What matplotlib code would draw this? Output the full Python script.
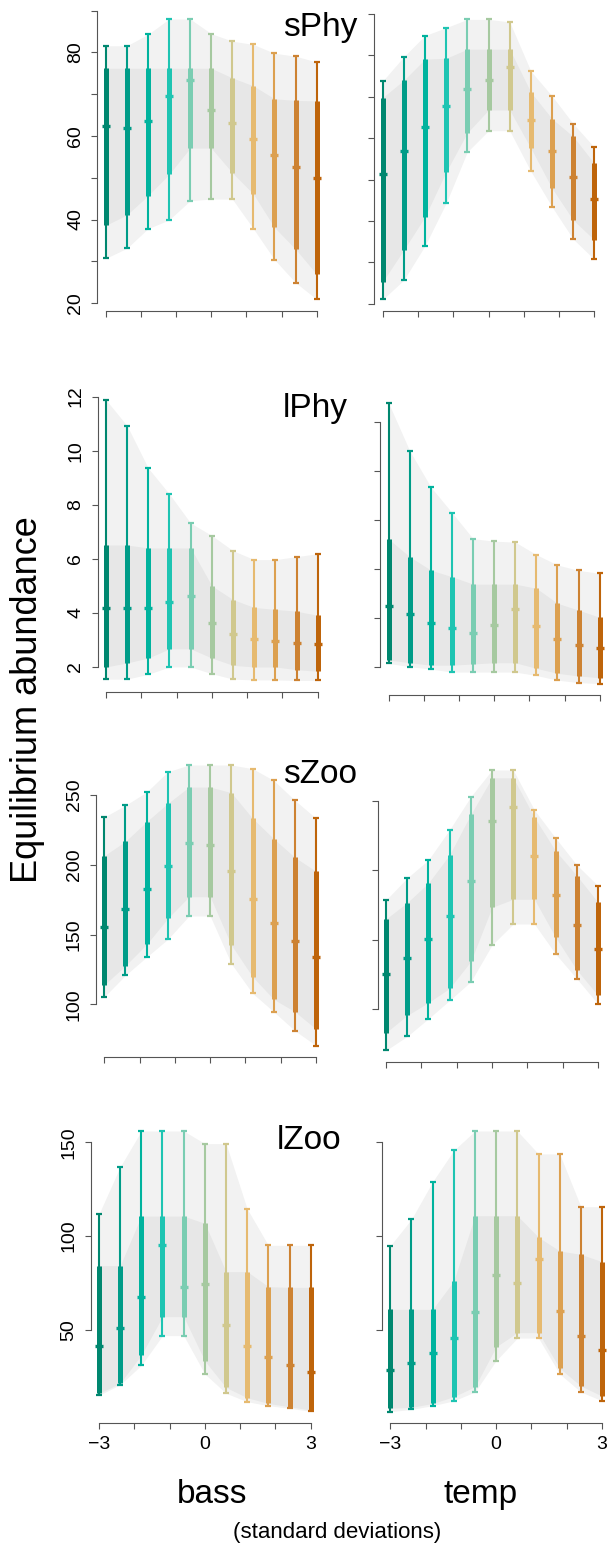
import numpy as np
import matplotlib
matplotlib.use("Agg")
import matplotlib.pyplot as plt

plt.rcParams['font.family'] = ['Liberation Sans', 'DejaVu Sans']

# x positions (standard deviations) shared by all panels
xs = [-3, -2.4, -1.8, -1.2, -0.6, 0, 0.6, 1.2, 1.8, 2.4, 3]

bar_colors = ['#00876F', '#009C88', '#00B39E', '#1EC4B2', '#7ACDB2', '#A6C9A0',
              '#D0C88E', '#E6BA70', '#DCA050', '#CD8232', '#BE640A']

# ---- sPhy ----
sphy_bass_hi  = [81.6, 81.6, 84.3, 88.0, 88.0, 84.5, 82.7, 81.9, 79.8, 79.1, 77.7]
sphy_bass_q3  = [76.2, 76.2, 76.2, 76.2, 76.2, 76.2, 73.9, 72.0, 68.9, 68.5, 68.4]
sphy_bass_med = [62.3, 61.8, 63.5, 69.5, 73.3, 66.2, 63.0, 59.2, 55.4, 52.5, 50.0]
sphy_bass_q1  = [38.6, 41.1, 45.7, 50.8, 57.1, 57.1, 51.2, 46.1, 38.1, 32.9, 26.9]
sphy_bass_lo  = [30.7, 33.1, 37.8, 39.9, 44.5, 44.9, 44.9, 37.8, 30.4, 24.9, 20.9]

sphy_temp_hi  = [73.8, 79.7, 84.8, 86.7, 88.7, 88.7, 88.1, 76.2, 70.2, 63.5, 57.8]
sphy_temp_q3  = [69.8, 74.0, 79.1, 79.3, 81.5, 81.5, 81.5, 71.1, 64.7, 60.4, 53.9]
sphy_temp_med = [51.3, 56.8, 62.6, 67.8, 71.8, 74.0, 77.2, 64.3, 56.8, 50.7, 45.3]
sphy_temp_q1  = [25.3, 33.0, 41.0, 51.9, 61.3, 66.8, 66.8, 57.6, 47.9, 40.2, 35.4]
sphy_temp_lo  = [21.0, 25.7, 34.0, 44.3, 56.7, 61.8, 61.8, 52.0, 43.4, 35.6, 30.7]

# ---- lPhy ----
lphy_bass_hi  = [11.88, 10.92, 9.35, 8.39, 7.32, 6.86, 6.30, 5.97, 5.97, 6.08, 6.19]
lphy_bass_q3  = [6.51, 6.51, 6.40, 6.40, 6.40, 5.00, 4.49, 4.20, 4.13, 4.06, 3.91]
lphy_bass_med = [4.18, 4.18, 4.18, 4.40, 4.62, 3.63, 3.22, 3.05, 2.96, 2.89, 2.85]
lphy_bass_q1  = [2.00, 2.15, 2.33, 2.67, 2.67, 2.33, 2.06, 2.00, 2.00, 1.90, 1.84]
lphy_bass_lo  = [1.55, 1.55, 1.73, 2.00, 2.00, 1.75, 1.55, 1.52, 1.52, 1.50, 1.50]

lphy_temp_hi  = [12.75, 10.81, 9.34, 8.30, 7.24, 7.14, 7.10, 6.59, 6.17, 5.95, 5.83]
lphy_temp_q3  = [7.22, 6.50, 5.96, 5.69, 5.39, 5.39, 5.39, 5.22, 4.61, 4.33, 4.04]
lphy_temp_med = [4.50, 4.16, 3.82, 3.59, 3.42, 3.71, 4.36, 3.67, 3.14, 2.90, 2.77]
lphy_temp_q1  = [2.30, 2.19, 2.09, 2.09, 2.14, 2.19, 2.19, 1.96, 1.76, 1.65, 1.58]
lphy_temp_lo  = [2.16, 2.03, 1.93, 1.81, 1.81, 1.81, 1.81, 1.67, 1.48, 1.38, 1.34]

# ---- sZoo ----
szoo_bass_hi  = [234.2, 242.6, 252.1, 266.7, 271.5, 271.5, 271.5, 268.9, 260.5, 246.2, 233.3]
szoo_bass_q3  = [206.5, 216.8, 230.9, 244.0, 255.7, 255.7, 251.7, 233.3, 218.7, 205.3, 195.3]
szoo_bass_med = [155.6, 168.3, 182.9, 198.9, 215.4, 214.2, 195.3, 175.2, 158.0, 145.4, 133.9]
szoo_bass_q1  = [113.9, 127.7, 143.0, 161.6, 177.1, 177.1, 142.5, 119.8, 103.6, 94.7, 82.3]
szoo_bass_lo  = [105.3, 120.8, 133.9, 146.6, 163.3, 163.3, 129.1, 107.9, 94.7, 81.1, 70.4]

szoo_temp_hi  = [178.5, 194.3, 207.3, 229.1, 252.9, 272.1, 272.1, 243.3, 223.1, 203.7, 188.8]
szoo_temp_q3  = [164.8, 176.6, 190.7, 211.1, 240.1, 266.5, 266.5, 238.0, 213.8, 196.0, 176.8]
szoo_temp_med = [125.0, 136.5, 150.2, 167.0, 192.4, 235.3, 245.2, 209.9, 181.8, 160.2, 143.2]
szoo_temp_q1  = [83.0, 95.4, 104.6, 114.9, 134.3, 173.2, 179.0, 179.0, 151.6, 128.1, 109.8]
szoo_temp_lo  = [70.2, 80.3, 93.0, 106.2, 119.7, 146.1, 161.2, 161.2, 139.6, 121.8, 103.6]

# ---- lZoo ----
lzoo_bass_hi  = [111.8, 136.9, 156.0, 156.0, 156.0, 149.3, 149.3, 114.5, 95.1, 95.1, 95.1]
lzoo_bass_q3  = [84.3, 84.3, 110.7, 110.7, 110.7, 106.8, 81.1, 81.1, 73.1, 72.7, 72.7]
lzoo_bass_med = [41.5, 50.9, 67.8, 95.3, 72.7, 74.5, 52.5, 41.5, 35.4, 31.3, 27.4]
lzoo_bass_q1  = [16.3, 21.6, 36.7, 57.1, 57.1, 33.5, 19.4, 13.9, 10.9, 9.1, 7.4]
lzoo_bass_lo  = [15.2, 20.9, 31.2, 47.0, 47.0, 26.6, 16.3, 11.8, 9.7, 8.3, 6.7]

lzoo_temp_hi  = [94.9, 109.0, 129.0, 145.7, 156.0, 156.0, 156.0, 143.8, 143.8, 115.7, 115.7]
lzoo_temp_q3  = [61.0, 61.0, 61.0, 76.1, 110.9, 110.9, 110.9, 99.4, 92.1, 90.3, 86.4]
lzoo_temp_med = [28.7, 32.2, 37.6, 45.6, 59.6, 79.3, 74.9, 87.7, 59.9, 46.8, 39.3]
lzoo_temp_q1  = [8.3, 8.8, 10.9, 14.5, 19.8, 41.1, 48.6, 48.6, 29.6, 20.2, 14.8]
lzoo_temp_lo  = [6.5, 7.7, 9.7, 12.3, 17.0, 33.7, 45.7, 45.7, 26.6, 17.0, 12.3]

row_names = ['sPhy', 'lPhy', 'sZoo', 'lZoo']
row_yticks = [[20, 30, 40, 50, 60, 70, 80, 90],
              [2, 4, 6, 8, 10, 12],
              [100, 150, 200, 250],
              [50, 100, 150]]
row_ylabels = [['20', '', '40', '', '60', '', '80', ''],
               ['2', '4', '6', '8', '10', '12'],
               ['100', '150', '200', '250'],
               ['50', '100', '150']]
xticks = [-3, -2, -1, 0, 1, 2, 3]
xticklabels = ['\u22123', '', '', '0', '', '', '3']

panels = [
    [(sphy_bass_lo, sphy_bass_q1, sphy_bass_med, sphy_bass_q3, sphy_bass_hi),
     (sphy_temp_lo, sphy_temp_q1, sphy_temp_med, sphy_temp_q3, sphy_temp_hi)],
    [(lphy_bass_lo, lphy_bass_q1, lphy_bass_med, lphy_bass_q3, lphy_bass_hi),
     (lphy_temp_lo, lphy_temp_q1, lphy_temp_med, lphy_temp_q3, lphy_temp_hi)],
    [(szoo_bass_lo, szoo_bass_q1, szoo_bass_med, szoo_bass_q3, szoo_bass_hi),
     (szoo_temp_lo, szoo_temp_q1, szoo_temp_med, szoo_temp_q3, szoo_temp_hi)],
    [(lzoo_bass_lo, lzoo_bass_q1, lzoo_bass_med, lzoo_bass_q3, lzoo_bass_hi),
     (lzoo_temp_lo, lzoo_temp_q1, lzoo_temp_med, lzoo_temp_q3, lzoo_temp_hi)],
]

# plot-region rectangles in pixels: left, right, top, bottom
W, H = 609, 1544
rects = [
    [(97.3, 325.1, 7.8, 310.5), (374.2, 602.8, 8.2, 310.7)],
    [(97.5, 326.2, 388.6, 691.7), (380.3, 608.1, 392.2, 694.8)],
    [(95.8, 324.5, 753.8, 1056.8), (377.5, 606.5, 758.8, 1061.6)],
    [(90.5, 319.2, 1119.8, 1422.5), (381.8, 610.5, 1119.8, 1422.9)],
]
title_pos = [(283, 36), (283, 417), (283, 783), (277, 1149)]

fig = plt.figure(figsize=(W / 100, H / 100), dpi=100)
axis_col = '#555555'

for r in range(4):
    for c in range(2):
        lo, q1, med, q3, hi = [np.array(a) for a in panels[r][c]]
        L, R, T, B = rects[r][c]
        ax = fig.add_axes([L / W, 1 - B / H, (R - L) / W, (B - T) / H])
        ymin, ymax = lo.min(), hi.max()
        ext = 0.04 * (ymax - ymin)
        ax.set_ylim(ymin - ext, ymax + ext)
        ax.set_xlim(-3.24, 3.24)

        ax.fill_between(xs, lo, hi, color='#F2F2F2', lw=0, zorder=1)
        ax.fill_between(xs, q1, q3, color='#E7E7E7', lw=0, zorder=2)

        ax.vlines(xs, lo, hi, colors=bar_colors, lw=1.5, capstyle='butt', zorder=3)
        ax.vlines(xs, q1, q3, colors=bar_colors, lw=3.6, capstyle='butt', zorder=4)
        for i, x in enumerate(xs):
            col = bar_colors[i]
            ax.plot([x, x], [lo[i], hi[i]], ls='none', marker='_', ms=4.5,
                    mew=1.6, color=col, zorder=5)
            ax.plot([x], [med[i]], ls='none', marker='_', ms=5.5, mew=2.4,
                    color=col, zorder=5)

        for s in ['top', 'right']:
            ax.spines[s].set_visible(False)
        for s in ['left', 'bottom']:
            ax.spines[s].set_color(axis_col)
            ax.spines[s].set_linewidth(0.8)
        ax.spines['left'].set_bounds(row_yticks[r][0], row_yticks[r][-1])
        ax.spines['bottom'].set_bounds(-3, 3)
        ax.set_facecolor('none')

        ax.set_yticks(row_yticks[r])
        ax.set_xticks(xticks)
        if c == 0:
            ax.set_yticklabels(row_ylabels[r], rotation=90, va='center')
        else:
            ax.set_yticklabels([])
        if r == 3:
            ax.set_xticklabels(xticklabels)
        else:
            ax.set_xticklabels([])
        ax.tick_params(axis='both', length=4.3, width=0.8, color=axis_col,
                       labelsize=14, pad=5.2, labelcolor='black')

    tx, ty = title_pos[r]
    fig.text(tx / W, 1 - ty / H, row_names[r], fontsize=24, ha='left', va='baseline')

fig.text(28 / W, 1 - 700 / H, 'Equilibrium abundance', rotation=90,
         fontsize=26, ha='center', va='center')
fig.text(176.7 / W, 1 - 1503 / H, 'bass', fontsize=24, ha='left', va='baseline')
fig.text(443.3 / W, 1 - 1503 / H, 'temp', fontsize=24, ha='left', va='baseline')
fig.text(233.3 / W, 1 - 1538 / H, '(standard deviations)', fontsize=16,
         ha='left', va='baseline')

fig.savefig('out.png', dpi=100)
